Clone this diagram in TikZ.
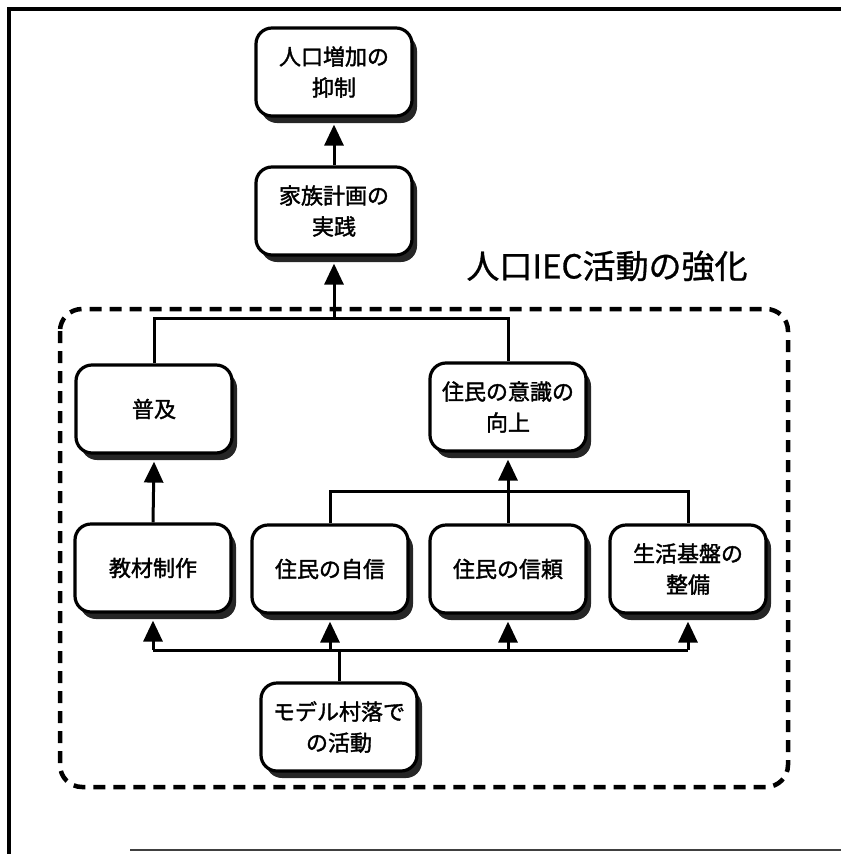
\documentclass[tikz,border=0pt]{standalone}
\usepackage{fontspec}
\newfontfamily\jp{Noto Sans CJK JP}[FakeBold=1.6]
\newfontfamily\jptitle{Noto Sans CJK JP}[FakeBold=0.9]
\usetikzlibrary{arrows.meta,shadows}
\begin{document}
\begin{tikzpicture}[x=1pt,y=-1pt,
  box/.style={draw=black, line width=3.2pt, rounded corners=16pt, fill=white,
    minimum width=156pt, minimum height=88pt, inner sep=4pt, align=center,
    font=\jp\fontsize{22}{31}\selectfont,
    drop shadow={shadow xshift=5pt, shadow yshift=-7pt, fill=black!85, opacity=1}},
  link/.style={line width=3pt},
  up/.style={link, -{Triangle[width=19pt,length=21pt]}}
]
\useasboundingbox (0,0) rectangle (841,854);

% page frame
\draw[line width=3.5pt] (841,9) -- (9,9) -- (9,854);
\draw[line width=2pt, black!75] (130,850) -- (841,850);

% dashed group and its heading
\draw[line width=4.5pt, dash pattern=on 12pt off 8pt, rounded corners=22pt]
  (60,309) rectangle (788,787);
\node[font=\jptitle\fontsize{33}{33}\selectfont] (title) at (607,266) {人口IEC活動の強化};

% boxes
\node[box] (goal)   at (334,72)  {人口増加の\\抑制};
\node[box] (plan)   at (334,211) {家族計画の\\実践};
\node[box] (spread) at (154,409) {普及};
\node[box] (aware)  at (508,407) {住民の意識の\\向上};
\node[box] (mat)    at (153,568) {教材制作};
\node[box] (conf)   at (330,569) {住民の自信};
\node[box] (trust)  at (508,569) {住民の信頼};
\node[box] (base)   at (688,569) {生活基盤の\\整備};
\node[box] (model)  at (339,727) {モデル村落で\\の活動};

% top chain
\draw[up] (plan.north) -- ([yshift=-7pt]goal.south);
\coordinate (topbar) at (334,318);
\draw[link] (spread.north) |- (topbar) -| (aware.north);
\draw[up] (topbar) -- ([yshift=-7pt]plan.south);

% middle level
\draw[up] (mat.north) -- ([yshift=-7pt]spread.south);
\coordinate (midbar) at (508,491);
\draw[link] (conf.north) |- (midbar) -| (base.north);
\draw[up] (trust.north) -- ([yshift=-7pt]aware.south);

% bottom distribution bar
\coordinate (lowbar) at (339,650);
\coordinate (lm) at (mat.south |- lowbar);
\coordinate (lc) at (conf.south |- lowbar);
\coordinate (lt) at (trust.south |- lowbar);
\coordinate (lb) at (base.south |- lowbar);
\draw[link] (model.north) -- (lowbar);
\draw[link] (lm) -- (lb);
\draw[up] (lm) -- ([yshift=-7pt]mat.south);
\draw[up] (lc) -- ([yshift=-7pt]conf.south);
\draw[up] (lt) -- ([yshift=-7pt]trust.south);
\draw[up] (lb) -- ([yshift=-7pt]base.south);
\end{tikzpicture}
\end{document}
